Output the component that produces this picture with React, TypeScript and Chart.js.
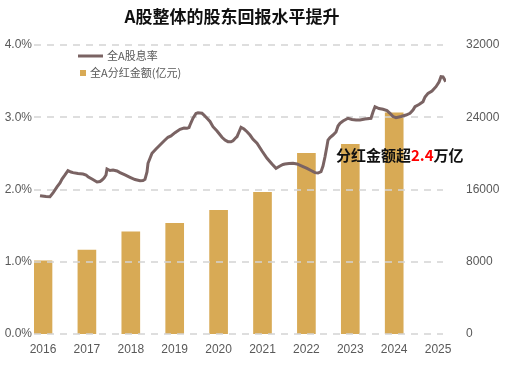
import React, { useEffect, useRef } from "react";
import { Chart, registerables } from "chart.js";

Chart.register(...registerables);

const barYears = [2016, 2017, 2018, 2019, 2020, 2021, 2022, 2023, 2024];
const dividendAmounts = [8100, 9300, 11300, 12250, 13700, 15700, 20000, 21000, 24500];
const xTickYears = [2016, 2017, 2018, 2019, 2020, 2021, 2022, 2023, 2024, 2025];

const yieldDates = [
  2015.932, 2016.068, 2016.159, 2016.228, 2016.319, 2016.387, 2016.433, 2016.501, 2016.569, 2016.638,
  2016.683, 2016.797, 2016.911, 2016.98, 2017.025, 2017.116, 2017.23, 2017.298, 2017.344, 2017.39,
  2017.435, 2017.458, 2017.526, 2017.595, 2017.686, 2017.754, 2017.868, 2017.982, 2018.096, 2018.21,
  2018.278, 2018.323, 2018.369, 2018.392, 2018.483, 2018.574, 2018.665, 2018.756, 2018.847, 2018.916,
  2019.007, 2019.121, 2019.212, 2019.28, 2019.326, 2019.349, 2019.417, 2019.485, 2019.531, 2019.622,
  2019.667, 2019.736, 2019.804, 2019.872, 2019.964, 2020.077, 2020.146, 2020.214, 2020.282, 2020.328,
  2020.396, 2020.419, 2020.465, 2020.51, 2020.579, 2020.647, 2020.715, 2020.784, 2020.875, 2020.989,
  2021.103, 2021.216, 2021.308, 2021.399, 2021.467, 2021.513, 2021.604, 2021.695, 2021.786, 2021.923,
  2022.014, 2022.105, 2022.196, 2022.264, 2022.333, 2022.378, 2022.424, 2022.469, 2022.492, 2022.538,
  2022.606, 2022.674, 2022.72, 2022.765, 2022.834, 2022.948, 2023.039, 2023.13, 2023.221, 2023.335,
  2023.471, 2023.517, 2023.563, 2023.654, 2023.745, 2023.836, 2023.904, 2023.973, 2024.041, 2024.155,
  2024.269, 2024.36, 2024.428, 2024.474, 2024.565, 2024.656, 2024.702, 2024.77, 2024.861, 2024.952,
  2025.021, 2025.066, 2025.112, 2025.175,
];

const yieldValues = [
  1.914, 1.903, 1.9, 1.952, 2.035, 2.09, 2.145, 2.201, 2.26, 2.242,
  2.233, 2.221, 2.215, 2.201, 2.177, 2.145, 2.104, 2.111, 2.131, 2.159,
  2.201, 2.284, 2.263, 2.27, 2.256, 2.233, 2.201, 2.169, 2.138, 2.122,
  2.125, 2.141, 2.242, 2.363, 2.501, 2.561, 2.616, 2.671, 2.723, 2.741,
  2.786, 2.833, 2.851, 2.847, 2.858, 2.893, 2.986, 3.052, 3.063, 3.055,
  3.031, 2.986, 2.941, 2.869, 2.81, 2.723, 2.685, 2.662, 2.66, 2.675,
  2.72, 2.731, 2.796, 2.861, 2.837, 2.8, 2.754, 2.695, 2.64, 2.533,
  2.432, 2.353, 2.293, 2.325, 2.346, 2.353, 2.36, 2.363, 2.353, 2.316,
  2.291, 2.263, 2.233, 2.228, 2.246, 2.325, 2.454, 2.602, 2.685, 2.72,
  2.754, 2.796, 2.879, 2.916, 2.948, 2.986, 2.969, 2.962, 2.962, 2.976,
  2.986, 3.073, 3.146, 3.121, 3.11, 3.093, 3.055, 3.01, 2.994, 3.01,
  3.031, 3.055, 3.1, 3.146, 3.177, 3.215, 3.28, 3.331, 3.363, 3.423,
  3.488, 3.561, 3.557, 3.492,
];

const titleText = "A股整体的股东回报水平提升";
const lineLabel = "全A股息率";
const barLabel = "全A分红金额(亿元)";
const noteParts = ["分红金额超", "2.4", "万亿"];

const FONT = "'Liberation Sans', 'Noto Sans CJK SC', sans-serif";
const CJK = "'Noto Sans CJK SC', 'Liberation Sans', sans-serif";
const LINE_COLOR = "#7a6363";
const BAR_COLOR = "#d8aa55";
const GRID_COLOR = "#d4d4d4";

const gridPlugin = {
  id: "dashGrid",
  afterDatasetDraw(chart: any, args: any) {
    if (args.index !== 1) return;
    const ctx = chart.ctx;
    const area = chart.chartArea;
    const scale = chart.scales.y;
    ctx.save();
    ctx.strokeStyle = GRID_COLOR;
    ctx.lineWidth = 1.5;
    ctx.setLineDash([7, 6]);
    scale.ticks.forEach((t: any) => {
      const y = Math.round(scale.getPixelForValue(t.value));
      ctx.beginPath();
      ctx.moveTo(area.left, y);
      ctx.lineTo(area.right - 3, y);
      ctx.stroke();
    });
    ctx.restore();
  },
};

const overlayPlugin = {
  id: "overlay",
  afterDraw(chart: any) {
    const ctx = chart.ctx;
    ctx.save();
    ctx.fillStyle = "#111";
    ctx.font = `bold 17px ${CJK}`;
    ctx.textAlign = "center";
    ctx.textBaseline = "middle";
    ctx.fillText(titleText, 232, 17);
    ctx.strokeStyle = LINE_COLOR;
    ctx.lineWidth = 3;
    ctx.beginPath();
    ctx.moveTo(78, 56);
    ctx.lineTo(103, 56);
    ctx.stroke();
    ctx.fillStyle = "#595959";
    ctx.font = `11px ${CJK}`;
    ctx.textAlign = "left";
    ctx.fillText(lineLabel, 107, 56);
    ctx.fillStyle = BAR_COLOR;
    ctx.fillRect(80, 70, 6, 6);
    ctx.fillStyle = "#595959";
    ctx.fillText(barLabel, 90, 73);
    ctx.font = `bold 15px ${CJK}`;
    let x = 336;
    const colors = ["#111", "#ff0000", "#111"];
    noteParts.forEach((p, i) => {
      ctx.fillStyle = colors[i];
      ctx.fillText(p, x, 155);
      x += ctx.measureText(p).width;
    });
    ctx.restore();
  },
};

export default function App() {
  const ref = useRef<HTMLCanvasElement>(null);
  useEffect(() => {
    const chart = new Chart(ref.current!, {
      type: "bar",
      data: {
        datasets: [
          {
            type: "line",
            label: lineLabel,
            data: yieldDates.map((d, i) => ({ x: d, y: yieldValues[i] })),
            yAxisID: "y",
            borderColor: LINE_COLOR,
            borderWidth: 3,
            pointRadius: 0,
            tension: 0,
            order: 0,
          } as any,
          {
            type: "bar",
            label: barLabel,
            data: barYears.map((d, i) => ({ x: d, y: dividendAmounts[i] })),
            yAxisID: "y1",
            backgroundColor: BAR_COLOR,
            barThickness: 18,
            order: 1,
          } as any,
        ],
      },
      options: {
        animation: false,
        responsive: false,
        layout: { padding: { top: 45, left: 0, right: 0, bottom: 0 } },
        plugins: { legend: { display: false }, tooltip: { enabled: false }, title: { display: false } },
        scales: {
          x: {
            type: "linear",
            min: 2015.795,
            max: 2025.18,
            offset: false,
            grid: { display: false, drawTicks: false },
            border: { display: false },
            afterBuildTicks: (axis: any) => {
              axis.ticks = xTickYears.map((v) => ({ value: v }));
            },
            afterFit: (s: any) => {
              s.height = 33;
            },
            ticks: {
              autoSkip: false,
              maxRotation: 0,
              padding: 8,
              color: "#595959",
              font: { family: FONT, size: 12 },
              callback: (v: any) => String(v),
            },
          },
          y: {
            type: "linear",
            position: "left",
            min: 0,
            max: 4,
            grid: { display: false, drawTicks: false },
            border: { display: false },
            afterFit: (s: any) => {
              s.width = 34;
            },
            ticks: {
              stepSize: 1,
              padding: 2,
              color: "#595959",
              font: { family: FONT, size: 12 },
              callback: (v: any) => Number(v).toFixed(1) + "%",
            },
          },
          y1: {
            type: "linear",
            position: "right",
            min: 0,
            max: 32000,
            grid: { display: false, drawTicks: false },
            border: { display: false },
            afterFit: (s: any) => {
              s.width = 60;
            },
            ticks: {
              stepSize: 8000,
              padding: 20,
              color: "#595959",
              font: { family: FONT, size: 12 },
              callback: (v: any) => String(v),
            },
          },
        },
      },
      plugins: [gridPlugin, overlayPlugin],
    } as any);
    return () => chart.destroy();
  }, []);
  return (
    <div style={{ position: "absolute", left: 0, top: 0, width: 506, height: 367, background: "#fff" }}>
      <canvas ref={ref} width={506} height={367} />
    </div>
  );
}
